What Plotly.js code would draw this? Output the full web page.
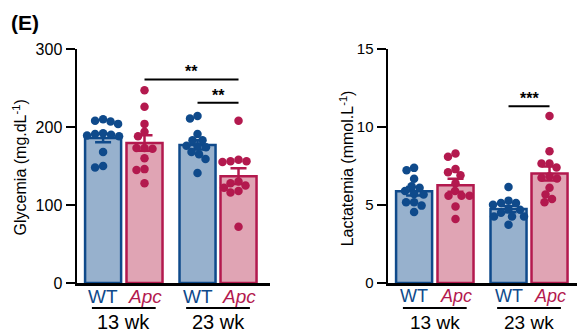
<!DOCTYPE html>
<html>
<head>
<meta charset="utf-8">
<script src="https://cdn.plot.ly/plotly-3.0.1.min.js"></script>
<style>html,body{margin:0;padding:0;background:#fff;}#chart{width:577px;height:333px;}</style>
</head>
<body>
<div id="chart"></div>
<script>
// ---------- data ----------
const genotypes = ['WT', 'Apc', 'WT', 'Apc'];
const ages = ['13 wk', '23 wk'];

const glyWT13  = [210, 207, 204, 208, 192, 191, 190, 189, 188, 168, 148, 150];
const glyApc13 = [247, 226, 204, 194, 188, 173, 172, 173, 160, 145, 146, 128];
const glyWT23  = [211, 214, 191, 183, 183, 176, 175, 174, 168, 165, 159, 141];
const glyApc23 = [208, 156, 155, 156, 158, 130, 128, 125, 122, 118, 116, 72];
const glyMean  = [186, 179.5, 177, 137];
const glySEM   = [5.5, 10, 6, 10];
const glyTicks = [0, 100, 200, 300];
const glySigFrom = [1, 2];
const glySigTo   = [3, 3];
const glySigY    = [261, 231];
const glySigTxt  = ['**', '**'];

const lacWT13  = [7.38, 7.23, 6.68, 6.2, 6.1, 5.9, 5.7, 5.67, 5.17, 5.17, 4.96, 4.55];
const lacApc13 = [8.3, 8.1, 7.3, 7.1, 6.9, 6.4, 5.9, 5.6, 5.6, 5.6, 4.9, 4.1];
const lacWT23  = [6.16, 5.28, 5.13, 5.13, 5.02, 4.72, 4.7, 4.5, 4.27, 4.27, 4.27, 3.73];
const lacApc23 = [10.7, 8.45, 7.66, 7.66, 7.4, 6.85, 6.75, 6.7, 6.1, 5.67, 5.39, 5.17];
const lacMean  = [5.88, 6.27, 4.74, 7.02];
const lacSEM   = [0.27, 0.42, 0.2, 0.45];
const lacTicks = [0, 5, 10, 15];
const lacSigFrom = [2];
const lacSigTo   = [3];
const lacSigY    = [11.33];
const lacSigTxt  = ['***'];

// ---------- style ----------
const BLUE = '#0f4a8b', BLUE_FILL = '#97b1cd';
const RED = '#b3194e', RED_FILL = '#e0a4b4';
const FONT = 'Liberation Sans, Arial, Helvetica, sans-serif';
const pos = [0, 1, 2.28, 3.27];          // slot positions on the x axis
const W = 577, H = 333, ML = 77, MT = 49, MB = 50, MR = 0;
const plotW = W - ML - MR, plotH = H - MT - MB;
const dom1 = [0, 0.386], dom2 = [0.622, 1];
const xr1 = [-0.63, 4.03];
const pxPerX = (dom1[1] - dom1[0]) * plotW / (xr1[1] - xr1[0]);
const xr2 = [-0.63, -0.63 + (dom2[1] - dom2[0]) * plotW / pxPerX];

// simple beeswarm: offsets in x units so dots do not overlap
function swarm(vals, pxPerY, d) {
  const order = vals.map((v, i) => i).sort((a, b) => vals[b] - vals[a]);
  const placed = [];
  const offs = new Array(vals.length).fill(0);
  for (const i of order) {
    const y = vals[i] * pxPerY;
    let best = 0;
    for (let k = 0; k < 400; k++) {
      const c = (k % 2 === 0 ? 1 : -1) * Math.ceil(k / 2) * 0.5;
      if (placed.every(p => Math.hypot(p.x - c, p.y - y) >= d)) { best = c; break; }
    }
    placed.push({x: best, y: y});
    offs[i] = best / pxPerX;
  }
  return offs;
}

const traces = [];
const shapes = [];
const annotations = [];

function panel(xa, ya, sets, mean, sem, yMax, sigFrom, sigTo, sigY, sigTxt, big) {
  const pxPerY = plotH / yMax;
  [[0, 2], [1, 3]].forEach((idx, g) => {
    traces.push({
      type: 'bar', xaxis: xa, yaxis: ya,
      x: idx.map(i => pos[i]), y: idx.map(i => mean[i]),
      width: 0.87,
      marker: {color: g === 0 ? BLUE_FILL : RED_FILL, line: {color: g === 0 ? BLUE : RED, width: 2.5}},
      error_y: {type: 'data', array: idx.map(i => sem[i]), visible: true, color: g === 0 ? BLUE : RED, thickness: 2.5, width: 8},
      hoverinfo: 'skip', showlegend: false
    });
  });
  sets.forEach((vals, i) => {
    const offs = swarm(vals, pxPerY, 7.8);
    traces.push({
      type: 'scatter', mode: 'markers', xaxis: xa, yaxis: ya,
      x: vals.map((v, j) => pos[i] + offs[j]), y: vals,
      marker: {size: 8.5, color: i % 2 === 0 ? BLUE : RED, line: {width: 0}},
      cliponaxis: false, hoverinfo: 'skip', showlegend: false
    });
  });
  const xref = xa, yref = ya;
  sigFrom.forEach((f, k) => {
    shapes.push({type: 'line', xref: xref, yref: yref, x0: pos[f], x1: pos[sigTo[k]], y0: sigY[k], y1: sigY[k], line: {color: '#000', width: 2}});
    annotations.push({xref: xref, yref: yref, x: (pos[f] + pos[sigTo[k]]) / 2, y: sigY[k], yanchor: 'bottom', yshift: -3,
      text: '<b>' + sigTxt[k] + '</b>', showarrow: false, font: {family: FONT, size: 16, color: '#000'}});
  });
  const fs = big ? 19 : 18;
  genotypes.forEach((g, i) => {
    annotations.push({xref: xref, yref: 'paper', x: pos[i], y: -0.056, yanchor: 'middle', xanchor: 'center', showarrow: false,
      text: g === 'Apc' ? '<i>Apc</i>' : g, font: {family: FONT, size: fs, color: g === 'Apc' ? RED : BLUE}});
  });
  ages.forEach((a, k) => {
    const c = (pos[2 * k] + pos[2 * k + 1]) / 2;
    shapes.push({type: 'line', xref: xref, yref: 'paper', x0: c - 0.77, x1: c + 0.77, y0: -0.107, y1: -0.107, line: {color: '#000', width: 2}});
    annotations.push({xref: xref, yref: 'paper', x: c, y: -0.167, yanchor: 'middle', showarrow: false,
      text: a, font: {family: FONT, size: big ? 20 : 19, color: '#000'}});
  });
}

panel('x', 'y', [glyWT13, glyApc13, glyWT23, glyApc23], glyMean, glySEM, 300, glySigFrom, glySigTo, glySigY, glySigTxt, true);
panel('x2', 'y2', [lacWT13, lacApc13, lacWT23, lacApc23], lacMean, lacSEM, 15, lacSigFrom, lacSigTo, lacSigY, lacSigTxt, false);

annotations.push({xref: 'paper', yref: 'paper', x: (20 - ML) / plotW, y: 0.494, textangle: -90, showarrow: false,
  xanchor: 'center', yanchor: 'middle', text: 'Glycemia (mg.dL<sup>-1</sup>)', font: {family: FONT, size: 16, color: '#000'}});
annotations.push({xref: 'paper', yref: 'paper', x: (347 - ML) / plotW, y: 0.49, textangle: -90, showarrow: false,
  xanchor: 'center', yanchor: 'middle', text: 'Lactatemia (mmol.L<sup>-1</sup>)', font: {family: FONT, size: 16, color: '#000'}});
annotations.push({xref: 'paper', yref: 'paper', x: (9 - ML) / plotW, y: (H - MB - 23) / plotH, xanchor: 'left', yanchor: 'middle', showarrow: false,
  text: '<b>(E)</b>', font: {family: FONT, size: 21, color: '#000'}});

const xBase = {showgrid: false, zeroline: false, showline: true, linecolor: '#000', linewidth: 2.5, ticks: '', showticklabels: false, fixedrange: true};
const yBase = {showgrid: false, zeroline: false, showline: true, linecolor: '#000', linewidth: 2.5, ticks: 'outside', ticklen: 9, tickwidth: 2.5, tickcolor: '#000', fixedrange: true};

const layout = {
  width: W, height: H,
  margin: {l: ML, r: MR, t: MT, b: MB},
  paper_bgcolor: '#fff', plot_bgcolor: 'rgba(0,0,0,0)',
  showlegend: false, barmode: 'overlay',
  font: {family: FONT, color: '#000'},
  xaxis: Object.assign({}, xBase, {domain: dom1, range: xr1, anchor: 'y'}),
  yaxis: Object.assign({}, yBase, {domain: [0, 1], range: [0, 300], tickvals: glyTicks, ticktext: glyTicks.map(String), tickfont: {family: FONT, size: 16}, anchor: 'x'}),
  xaxis2: Object.assign({}, xBase, {domain: dom2, range: xr2, anchor: 'y2'}),
  yaxis2: Object.assign({}, yBase, {domain: [0, 1], range: [0, 15], tickvals: lacTicks, ticktext: lacTicks.map(String), tickfont: {family: FONT, size: 15}, anchor: 'x2'}),
  shapes: shapes,
  annotations: annotations
};

Plotly.newPlot('chart', traces, layout, {staticPlot: true, displayModeBar: false});
</script>
</body>
</html>
